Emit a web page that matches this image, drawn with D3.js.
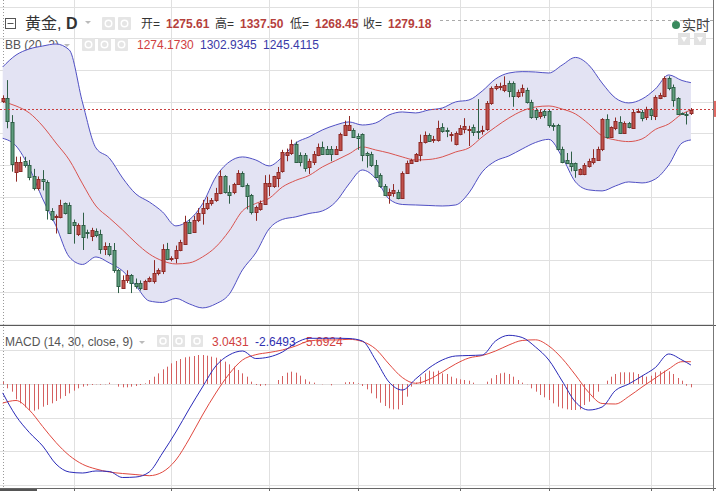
<!DOCTYPE html>
<html>
<head>
<meta charset="utf-8">
<script src="https://cdn.jsdelivr.net/npm/d3@7"></script>
<style>
body { margin: 0; background: #fff; }
svg { display: block; font-family: "Liberation Sans", "Noto Sans CJK SC", Arial, sans-serif; }
</style>
</head>
<body>
<script>
// daily candles (price)
var open = [1276,1277.7,1259.2,1219.8,1220.5,1228.5,1225,1216.4,1206.7,1213.8,
  1211.9,1189,1184,1183.8,1194.8,1193.5,1180,1170.6,1177.7,1172,
  1168.9,1173.2,1170.6,1159,1161,1157.8,1142,1128.3,1134.7,1138.5,
  1132,1131.7,1127.7,1134,1133,1139.6,1141,1158.5,1151,1151.5,
  1158,1163.3,1180.3,1172.4,1181.3,1187,1191,1195,1197.5,1202.7,
  1216.4,1204,1204,1210,1218.5,1209,1201.5,1188,1190,1194.3,
  1209,1208.5,1215,1219.7,1233,1234,1241.6,1233,1233,1223.7,
  1228,1233,1239.5,1238,1238,1234.3,1237,1249,1253,1252.7,
  1248,1249.3,1234.5,1234,1225,1217,1208.5,1201.4,1203,1204,
  1199,1219,1227,1228.5,1233,1243.5,1248.7,1245,1244.2,1254.8,
  1252.7,1249,1241.6,1249.5,1254,1252.7,1254.7,1251.6,1252.7,1253,
  1273.7,1285.6,1287,1284.2,1290,1289.5,1279.5,1282.7,1284.2,1275,
  1268.5,1263.5,1267.3,1267.9,1256.6,1256.6,1237.4,1229,1226.8,1226.4,
  1217.9,1217.9,1224.3,1226.8,1229.5,1237,1261,1247,1254.8,1259.2,
  1250,1258,1254.8,1267.5,1267.1,1262.7,1269,1263.7,1278,1279,
  1293.5,1286.8,1277.7,1265.8,1265.5,1265.8];
var high = [1280,1292,1264.4,1231.6,1231.6,1231.5,1229,1222,1216,1221,
  1213,1191,1186,1197.6,1195.5,1195.5,1182,1179,1187.4,1174,
  1175.5,1175,1174,1164,1163.5,1163.5,1143,1138,1142,1139,
  1135.5,1134,1134.5,1137,1150,1143.5,1162.5,1163.6,1153,1161.5,
  1166,1185,1182.4,1185,1191,1197.5,1200,1199,1207,1221,
  1217,1209,1211,1221,1220,1210.5,1202.2,1193,1197,1217,
  1217.5,1216.5,1223.5,1237,1238,1245,1243.5,1235,1234.5,1230,
  1236,1242,1243.5,1240,1240,1240,1250.5,1260,1263.7,1254,
  1250,1250,1235.5,1235.5,1229,1218.5,1210,1206.5,1210,1205.5,
  1220,1228.5,1230,1234.5,1249,1251.5,1250,1248,1260,1258,
  1254.5,1251,1251.5,1256.5,1262,1256,1257,1277,1256,1275.5,
  1287,1289,1290,1295,1291.5,1291,1284.5,1288.5,1286,1276.5,
  1270,1269,1269,1268.5,1258,1257.5,1239.5,1234.5,1235.6,1227,
  1222.5,1226.5,1230,1237.5,1239.5,1262,1265,1255.5,1262.5,1263.5,
  1259.5,1259,1268.5,1269.5,1268.5,1271,1270,1280,1282,1295,
  1295,1288.5,1278.5,1266.5,1267,1270];
var low = [1274,1254,1219.8,1211.9,1219.8,1223,1213,1205,1205,1205,
  1182,1181,1171,1183,1186,1171,1163,1169,1158,1167,
  1165,1168,1155,1154,1153,1140,1124,1127.5,1132,1124,
  1127.5,1126,1127,1132.5,1131.5,1138,1139,1150,1149,1147.5,
  1157,1162.5,1171,1171.5,1180,1178,1189.5,1193,1196,1202,
  1202.5,1194.5,1202,1209.5,1207.5,1190,1186,1181,1189,1193.5,
  1200.5,1207,1207.5,1219,1228,1233,1227,1224,1219.8,1218,
  1225,1232,1233,1233,1228,1233,1236,1248,1252,1246.6,
  1237,1228,1223,1223.5,1214.6,1207,1200.5,1194.5,1200,1198,
  1198.5,1218.5,1226,1227.5,1228,1242,1243.5,1242.5,1243.5,1250.5,
  1247,1243.5,1240.5,1248.5,1250,1240,1248,1245.5,1249,1252,
  1272.5,1284,1284,1282.5,1278.5,1271,1278,1279,1273.5,1261.5,
  1260.5,1261.5,1262,1254.5,1252,1236.6,1226.4,1226,1220,1215,
  1217,1217,1223,1225.5,1229,1236,1246,1246.5,1252.5,1249.5,
  1249.5,1254,1254,1266,1259.5,1260.5,1260.5,1260.5,1277,1278.5,
  1284,1271,1264.5,1264.5,1257,1264.5];
var close = [1278,1259.2,1226.4,1227.7,1227.7,1225,1215.8,1206.7,1213.8,1211.9,
  1189.6,1183,1184.5,1193.5,1187,1171.7,1178,1177.7,1168.5,1171,
  1173.7,1169.8,1158.5,1161,1155,1142,1129,1134.7,1138.5,1132,
  1129.6,1127.7,1133.8,1136,1139.6,1142,1158.5,1150.6,1151.5,1158,
  1164.6,1180.3,1171.7,1181.7,1187,1191,1195,1197.5,1202.7,1216.4,
  1204,1202,1210,1218.5,1208,1200,1188.2,1191.7,1195,1210.6,
  1211,1216,1219.7,1235,1235.5,1241.4,1227.7,1227.7,1223,1228.5,
  1234,1239.5,1234.3,1234,1234.3,1238,1249.5,1256.6,1256.6,1247.4,
  1246.6,1233,1233,1225,1215.4,1208,1201.4,1204,1205,1199,
  1219,1227,1229,1234,1243.5,1248.7,1244.2,1245.5,1254,1251.7,
  1252,1249.5,1250,1254,1256,1253.5,1251,1251,1253,1273.7,
  1285.6,1287.5,1287.5,1288.2,1284,1279,1283,1285.6,1275,1263.2,
  1263,1267,1264,1256.6,1256,1237.4,1226.8,1227,1224.3,1220.5,
  1221.6,1225,1228.4,1230.3,1238,1261,1247,1254.8,1260,1250.5,
  1258,1255,1267.1,1268,1262,1269,1264.6,1278.5,1280,1293.5,
  1285.6,1276.3,1265.3,1265.3,1265,1268.5];

// month boundaries (candle index)
var monthIdx = [16, 38, 60, 80, 103, 123, 146];

// Bollinger bands, read every 3rd candle (plus the last one)
var bbIdx = d3.range(0, 154, 3).concat([155]);
var bbUpper = [1302.4,1311.8,1316.6,1318.9,1320.5,1315.8,1274.0,1238.5,1230.6,1214.8,
  1202.2,1195.9,1188.0,1177.0,1181.7,1194.3,1215.6,1227.4,1231.4,1229.0,
  1224.3,1231.4,1242.4,1247.2,1252.7,1256.6,1259.0,1256.6,1258.2,1264.5,
  1266.9,1266.1,1268.5,1270.0,1274.8,1276.3,1283.4,1292.9,1297.6,1298.7,
  1298.4,1297.6,1303.9,1309.9,1303.9,1289.7,1277.9,1274.0,1277.1,1285.0,
  1296.1,1291.7,1290.0];
var bbMiddle = [1275.0,1271.6,1266.1,1255.8,1242.4,1229.0,1210.1,1192.7,1183.3,1173.8,
  1163.6,1154.9,1149.4,1147.0,1147.8,1152.5,1160.4,1173.0,1188.8,1194.7,
  1198.7,1207.7,1212.9,1216.8,1223.5,1228.6,1233.8,1239.3,1236.9,1234.5,
  1231.4,1229.0,1229.4,1231.4,1235.3,1238.5,1247.2,1255.0,1262.1,1267.7,
  1270.8,1271.6,1269.2,1265.3,1257.4,1248.0,1244.8,1243.5,1245.6,1253.1,
  1257.4,1265.3,1268.5];
var bbLower = [1246.1,1240.1,1222.7,1198.3,1177.0,1152.5,1146.6,1152.5,1147.8,1141.5,
  1129.7,1117.8,1116.6,1119.8,1115.5,1112.3,1115.5,1123.0,1142.3,1155.7,
  1174.6,1182.1,1184.1,1186.8,1188.8,1195.9,1210.1,1221.1,1214.4,1198.3,
  1193.9,1193.5,1193.1,1192.7,1193.5,1203.0,1219.6,1228.2,1232.2,1237.7,
  1242.8,1245.3,1231.4,1211.7,1205.4,1204.6,1208.5,1211.7,1210.9,1214.0,
  1225.1,1242.4,1244.8];

// MACD (same sampling as the bands)
var macdLine = [-2.65,-9.52,-14.43,-18.45,-23.81,-26.19,-26.49,-25.89,-26.04,-27.83,
  -27.68,-26.19,-20.54,-14.29,-7.44,-0.89,5.36,8.63,9.82,7.59,
  8.04,9.52,12.2,13.6,13.6,13.63,13.54,12.8,7.14,0.6,
  -1.79,1.49,4.76,7.14,8.33,8.48,8.63,12.8,14.49,13.84,
  11.01,7.14,0.89,-5.36,-7.74,-6.85,-1.93,0,2.38,4.91,
  8.93,7.14,5.65];
var signalLine = [-5.69,-4.91,-7.74,-12.65,-17.41,-21.28,-23.9,-25.3,-26.19,-26.64,
  -26.96,-27.29,-26.19,-22.62,-16.37,-9.23,-2.68,2.98,7.14,8.72,
  9.38,10.12,11.31,12.8,13.1,13.1,13.3,12.65,10.42,5.95,
  1.93,0.21,1.34,3.57,5.95,7.74,8.48,9.82,11.61,12.95,
  13.15,11.31,7.59,2.68,-2.53,-5.8,-5.95,-3.72,-0.89,1.79,
  4.46,6.64,6.64];
// histogram, one bar per candle
var hist = [0.7,-1.29,-2.28,-4.56,-5.75,-6.94,-7.74,-7.94,-7.54,-6.75,
  -6.25,-5.75,-5.06,-4.37,-3.57,-2.78,-1.98,-1.29,-0.79,-0.5,
  -0.3,-0.1,-0.2,-0.1,0.4,0,-0.79,-0.99,-0.99,-0.79,
  -0.6,-0.3,0.2,1.19,2.18,3.17,4.37,5.16,6.15,6.85,
  7.44,7.94,8.13,8.33,8.63,8.63,8.43,8.13,7.84,7.34,
  6.65,5.85,5.16,4.17,3.17,2.18,0.69,-0.3,-0.6,-0.4,
  -0.1,0,1.19,2.38,3.37,3.67,3.37,2.48,1.39,0.69,
  0.4,0,-0.1,0,-0.4,0,0,0.5,0.6,0.6,
  0.2,-0.6,-1.59,-2.78,-4.27,-5.56,-6.55,-7.24,-7.54,-7.54,
  -6.25,-3.77,-0.79,0.4,2.18,3.17,3.97,3.67,3.97,3.17,
  2.98,2.18,1.69,1.39,1.19,0.99,0.4,0,0,0.69,
  1.69,2.68,3.17,3.37,2.98,2.18,1.19,0.4,-0.1,-1.29,
  -2.28,-3.27,-3.97,-4.76,-5.75,-6.75,-7.24,-7.54,-7.74,-7.74,
  -7.54,-6.25,-5.26,-3.97,-2.28,0,0.99,2.18,2.98,3.47,
  3.47,3.47,3.47,2.98,2.48,2.18,2.48,3.47,3.77,3.97,
  3.77,2.98,1.79,0.99,-0.5,-0.99];

var priceTicks = [1100,1125,1150,1175,1200,1225,1250,1275,1300,1325,1350];
var macdTicks = [10, 0, -10, -20, -30];

//Width and height
var w = 716;
var h = 491;
var right = 713;

var x = d3.scaleLinear().domain([0, 155]).range([2.7, 690.9]);
var y = d3.scaleLinear().domain([1100, 1350]).range([323.5, 6.6]);
var ym = d3.scaleLinear().domain([-30, 10]).range([484.8, 350.4]);

var px = function(i) { return Math.round(x(i)) + 0.5; };

var svg = d3.select("body").append("svg")
    .attr("width", w)
    .attr("height", h);

var grid = svg.append("g").attr("stroke", "#e0e0e0").attr("stroke-width", 1);

grid.selectAll("line.hp").data(priceTicks).enter().append("line")
    .attr("x1", 0).attr("x2", right)
    .attr("y1", d => Math.round(y(d)) + 0.5).attr("y2", d => Math.round(y(d)) + 0.5);

grid.selectAll("line.hm").data(macdTicks).enter().append("line")
    .attr("x1", 0).attr("x2", right)
    .attr("y1", d => Math.round(ym(d)) + 0.5).attr("y2", d => Math.round(ym(d)) + 0.5);

grid.selectAll("line.v").data(monthIdx).enter().append("line")
    .attr("x1", d => px(d)).attr("x2", d => px(d))
    .attr("y1", 0).attr("y2", 488);

// crosshair
svg.append("line").attr("x1", px(0)).attr("x2", px(0)).attr("y1", 0).attr("y2", 488)
    .attr("stroke", "#999").attr("stroke-dasharray", "1,2");
svg.append("line").attr("x1", 440).attr("x2", right).attr("y1", 20.5).attr("y2", 20.5)
    .attr("stroke", "#aaa").attr("stroke-dasharray", "3,3");

// legends
function icon(g, x0, y0, s) {
    g.append("rect").attr("x", x0).attr("y", y0).attr("width", s).attr("height", s)
        .attr("rx", 1).attr("fill", "#e5e5e5");
    g.append("circle").attr("cx", x0 + s / 2).attr("cy", y0 + s / 2).attr("r", s / 4)
        .attr("fill", "none").attr("stroke", "#fff").attr("stroke-width", 1.5);
}
function arrow(g, x0, y0) {
    g.append("path").attr("d", "M" + x0 + "," + y0 + "l6,0l-3,3z").attr("fill", "#bbb");
}

var lg = svg.append("g");
lg.append("rect").attr("x", 5.5).attr("y", 18.5).attr("width", 10).attr("height", 10)
    .attr("fill", "none").attr("stroke", "#555");
lg.append("line").attr("x1", 7.5).attr("x2", 13.5).attr("y1", 23.5).attr("y2", 23.5).attr("stroke", "#555");
var t1 = lg.append("text").attr("x", 25).attr("y", 29).attr("font-size", 16).attr("fill", "#333");
t1.append("tspan").text("黄金, ");
t1.append("tspan").attr("font-weight", "bold").text("D");
arrow(lg, 85, 21);
icon(lg, 102, 17, 13);
icon(lg, 118, 17, 13);

var ohlc = [["开=", 141, "1275.61", 166], ["高=", 215, "1337.50", 240],
            ["低=", 290, "1268.45", 315], ["收=", 363, "1279.18", 388]];
ohlc.forEach(function(d) {
    lg.append("text").attr("x", d[1]).attr("y", 28).attr("font-size", 12).attr("fill", "#333").text(d[0]);
    lg.append("text").attr("x", d[3]).attr("y", 28).attr("font-size", 12).attr("font-weight", "bold")
        .attr("fill", "#b5403c").text(d[2]);
});

lg.append("text").attr("x", 5).attr("y", 49).attr("font-size", 12).attr("fill", "#555").text("BB (20, 2)");
arrow(lg, 64, 44);
icon(lg, 82, 38, 13); icon(lg, 98, 38, 13); icon(lg, 115, 38, 13);
lg.append("text").attr("x", 137).attr("y", 49).attr("font-size", 12).attr("fill", "#d04040").text("1274.1730");
lg.append("text").attr("x", 200).attr("y", 49).attr("font-size", 12).attr("fill", "#3a3aa8").text("1302.9345");
lg.append("text").attr("x", 263).attr("y", 49).attr("font-size", 12).attr("fill", "#3a3aa8").text("1245.4115");

lg.append("text").attr("x", 5).attr("y", 346).attr("font-size", 12).attr("fill", "#555").text("MACD (14, 30, close, 9)");
arrow(lg, 139, 341);
icon(lg, 157, 335, 12); icon(lg, 173, 335, 12); icon(lg, 191, 335, 12);
lg.append("text").attr("x", 212).attr("y", 346).attr("font-size", 12).attr("fill", "#d04040").text("3.0431");
lg.append("text").attr("x", 255).attr("y", 346).attr("font-size", 12).attr("fill", "#3030b0").text("-2.6493");
lg.append("text").attr("x", 302).attr("y", 346).attr("font-size", 12).attr("fill", "#d04040").text("-5.6924");

// realtime badge
lg.append("circle").attr("cx", 676).attr("cy", 25).attr("r", 4).attr("fill", "#3a8a5e");
lg.append("text").attr("x", 682).attr("y", 30).attr("font-size", 14).attr("fill", "#444").text("实时");
lg.append("rect").attr("x", 678).attr("y", 33).attr("width", 12).attr("height", 12).attr("fill", "#e2e2e2");
lg.append("rect").attr("x", 694).attr("y", 33).attr("width", 12).attr("height", 12).attr("fill", "#e2e2e2");
lg.append("path").attr("d", "M681,37l6,0l-3,5z").attr("fill", "#fff");
lg.append("path").attr("d", "M697,37l6,0l-3,5z").attr("fill", "#fff");

// Bollinger bands
var bb = bbIdx.map(function(i, k) { return { i: i, u: bbUpper[k], m: bbMiddle[k], l: bbLower[k] }; });

svg.append("path").datum(bb)
    .attr("fill", "#e3e3f3")
    .attr("d", d3.area().curve(d3.curveMonotoneX).x(d => x(d.i)).y0(d => y(d.l)).y1(d => y(d.u)));

[["u", "#5050c4"], ["l", "#5050c4"], ["m", "#d9534f"]].forEach(function(s) {
    svg.append("path").datum(bb)
        .attr("fill", "none").attr("stroke", s[1]).attr("stroke-width", 1)
        .attr("d", d3.line().curve(d3.curveMonotoneX).x(d => x(d.i)).y(d => y(d[s[0]])));
});

// candles
var candles = d3.range(open.length).map(function(i) {
    return { i: i, o: open[i], h: high[i], l: low[i], c: close[i], up: close[i] >= open[i] };
});
var cg = svg.append("g");
cg.selectAll("line").data(candles).enter().append("line")
    .attr("x1", d => px(d.i)).attr("x2", d => px(d.i))
    .attr("y1", d => y(d.h)).attr("y2", d => y(d.l))
    .attr("stroke", d => d.up ? "#8e2a26" : "#2f5f47");
cg.selectAll("rect").data(candles).enter().append("rect")
    .attr("x", d => px(d.i) - 1.5)
    .attr("width", 3)
    .attr("y", d => Math.round(y(Math.max(d.o, d.c))) + 0.5)
    .attr("height", d => Math.max(1, Math.round(Math.abs(y(d.o) - y(d.c)))))
    .attr("fill", d => d.up ? "#c0504b" : "#5f9d7d")
    .attr("stroke", d => d.up ? "#8e2a26" : "#2f5f47");

// last price
var last = close[close.length - 1];
svg.append("line").attr("x1", 0).attr("x2", right)
    .attr("y1", Math.round(y(last)) - 0.5).attr("y2", Math.round(y(last)) - 0.5)
    .attr("stroke", "#c94040").attr("stroke-dasharray", "2,2");
svg.append("rect").attr("x", right + 1).attr("y", y(last) - 9).attr("width", 10).attr("height", 16)
    .attr("fill", "#e06a64");

// MACD histogram
svg.append("g").selectAll("line").data(hist).enter().append("line")
    .attr("x1", (d, i) => px(i)).attr("x2", (d, i) => px(i))
    .attr("y1", ym(0)).attr("y2", d => ym(d))
    .attr("stroke", "#d46060").attr("stroke-width", 1);

var mc = bbIdx.map(function(i, k) { return { i: i, m: macdLine[k], s: signalLine[k] }; });
svg.append("path").datum(mc).attr("fill", "none").attr("stroke", "#e0483f")
    .attr("d", d3.line().curve(d3.curveMonotoneX).x(d => x(d.i)).y(d => ym(d.s)));
svg.append("path").datum(mc).attr("fill", "none").attr("stroke", "#2a2ab8")
    .attr("d", d3.line().curve(d3.curveMonotoneX).x(d => x(d.i)).y(d => ym(d.m)));

// frame
svg.append("line").attr("x1", 0).attr("x2", w).attr("y1", 325.5).attr("y2", 325.5).attr("stroke", "#5a5a5a");
svg.append("line").attr("x1", 0).attr("x2", w).attr("y1", 488.5).attr("y2", 488.5).attr("stroke", "#666");
svg.append("line").attr("x1", right + 0.5).attr("x2", right + 0.5).attr("y1", 0).attr("y2", h).attr("stroke", "#777");
svg.append("rect").attr("x", 0).attr("y", 489).attr("width", 37).attr("height", 2).attr("fill", "#555");
svg.selectAll("line.tick").data(monthIdx).enter().append("line")
    .attr("x1", d => px(d)).attr("x2", d => px(d)).attr("y1", 488).attr("y2", 491)
    .attr("stroke", "#666");
</script>
</body>
</html>
